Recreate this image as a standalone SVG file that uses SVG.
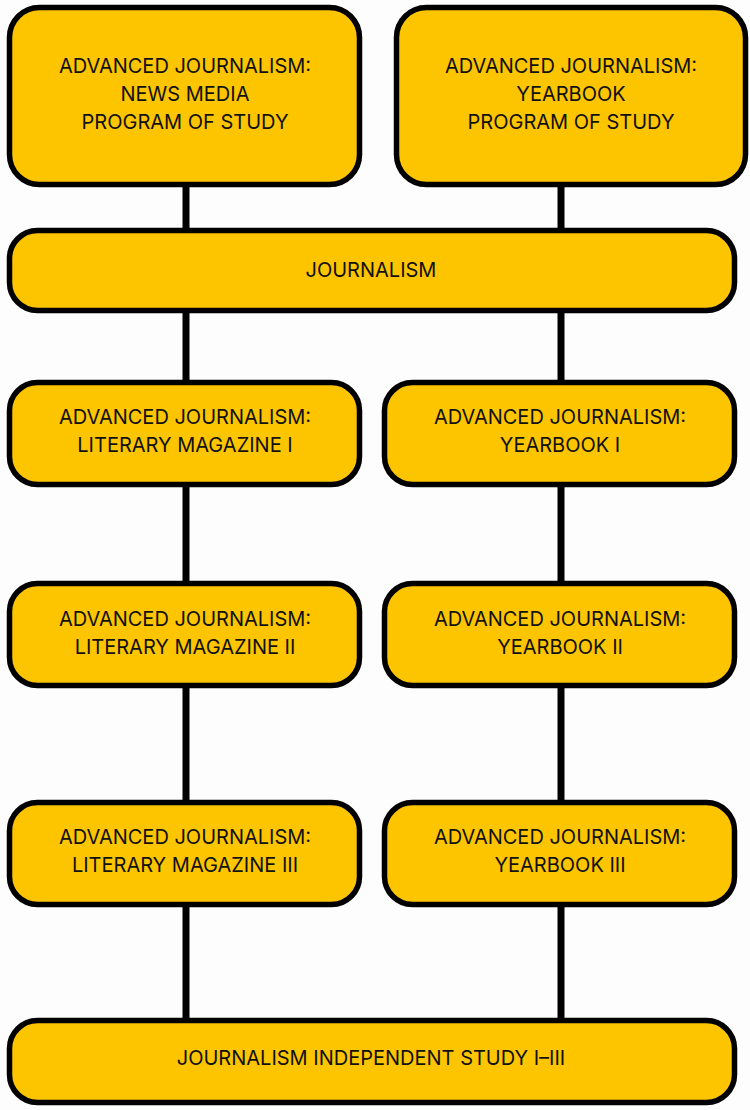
<svg xmlns="http://www.w3.org/2000/svg" width="750" height="1110" viewBox="0 0 750 1110">
<style>
.box{fill:#FDC500;stroke:#000;stroke-width:5.5}
.lbl{font-family:Inter,"Open Sans","Liberation Sans",sans-serif;font-size:20px;fill:#111;text-anchor:middle}
.con{stroke:#000;stroke-width:7;fill:none}
</style>
<rect width="750" height="1110" fill="#fdfdfd"/>
<g id="connectors">
<line class="con" x1="186" y1="185" x2="186" y2="230"/>
<line class="con" x1="561" y1="185" x2="561" y2="230"/>
<line class="con" x1="186" y1="311" x2="186" y2="382"/>
<line class="con" x1="561" y1="311" x2="561" y2="382"/>
<line class="con" x1="186" y1="485" x2="186" y2="582"/>
<line class="con" x1="561" y1="485" x2="561" y2="582"/>
<line class="con" x1="186" y1="686" x2="186" y2="802"/>
<line class="con" x1="561" y1="686" x2="561" y2="802"/>
<line class="con" x1="186" y1="905" x2="186" y2="1020"/>
<line class="con" x1="561" y1="905" x2="561" y2="1020"/>
</g>
<g id="news-media">
<rect class="box" x="9.5" y="7.5" width="350" height="177" rx="30"/>
<text class="lbl" x="185" y="73">ADVANCED JOURNALISM:</text>
<text class="lbl" x="185" y="101">NEWS MEDIA</text>
<text class="lbl" x="185" y="129">PROGRAM OF STUDY</text>
</g>
<g id="yearbook-program">
<rect class="box" x="396.5" y="7.5" width="349" height="177" rx="30"/>
<text class="lbl" x="571" y="73">ADVANCED JOURNALISM:</text>
<text class="lbl" x="571" y="101">YEARBOOK</text>
<text class="lbl" x="571" y="129">PROGRAM OF STUDY</text>
</g>
<g id="journalism">
<rect class="box" x="9.5" y="230.5" width="725" height="80" rx="28"/>
<text class="lbl" x="371" y="277">JOURNALISM</text>
</g>
<g id="litmag-1">
<rect class="box" x="9.5" y="382.5" width="350" height="102" rx="28"/>
<text class="lbl" x="185" y="424">ADVANCED JOURNALISM:</text>
<text class="lbl" x="185" y="452">LITERARY MAGAZINE I</text>
</g>
<g id="yearbook-1">
<rect class="box" x="384.5" y="382.5" width="350" height="102" rx="28"/>
<text class="lbl" x="560" y="424">ADVANCED JOURNALISM:</text>
<text class="lbl" x="560" y="452">YEARBOOK I</text>
</g>
<g id="litmag-2">
<rect class="box" x="9.5" y="583.5" width="350" height="102" rx="28"/>
<text class="lbl" x="185" y="626">ADVANCED JOURNALISM:</text>
<text class="lbl" x="185" y="654">LITERARY MAGAZINE II</text>
</g>
<g id="yearbook-2">
<rect class="box" x="384.5" y="583.5" width="350" height="102" rx="28"/>
<text class="lbl" x="560" y="626">ADVANCED JOURNALISM:</text>
<text class="lbl" x="560" y="654">YEARBOOK II</text>
</g>
<g id="litmag-3">
<rect class="box" x="9.5" y="802.5" width="350" height="102" rx="28"/>
<text class="lbl" x="185" y="844">ADVANCED JOURNALISM:</text>
<text class="lbl" x="185" y="872">LITERARY MAGAZINE III</text>
</g>
<g id="yearbook-3">
<rect class="box" x="384.5" y="802.5" width="350" height="102" rx="28"/>
<text class="lbl" x="560" y="844">ADVANCED JOURNALISM:</text>
<text class="lbl" x="560" y="872">YEARBOOK III</text>
</g>
<g id="independent-study">
<rect class="box" x="9.5" y="1020.5" width="725" height="82" rx="28"/>
<text class="lbl" x="371" y="1065">JOURNALISM INDEPENDENT STUDY I–III</text>
</g>
</svg>
